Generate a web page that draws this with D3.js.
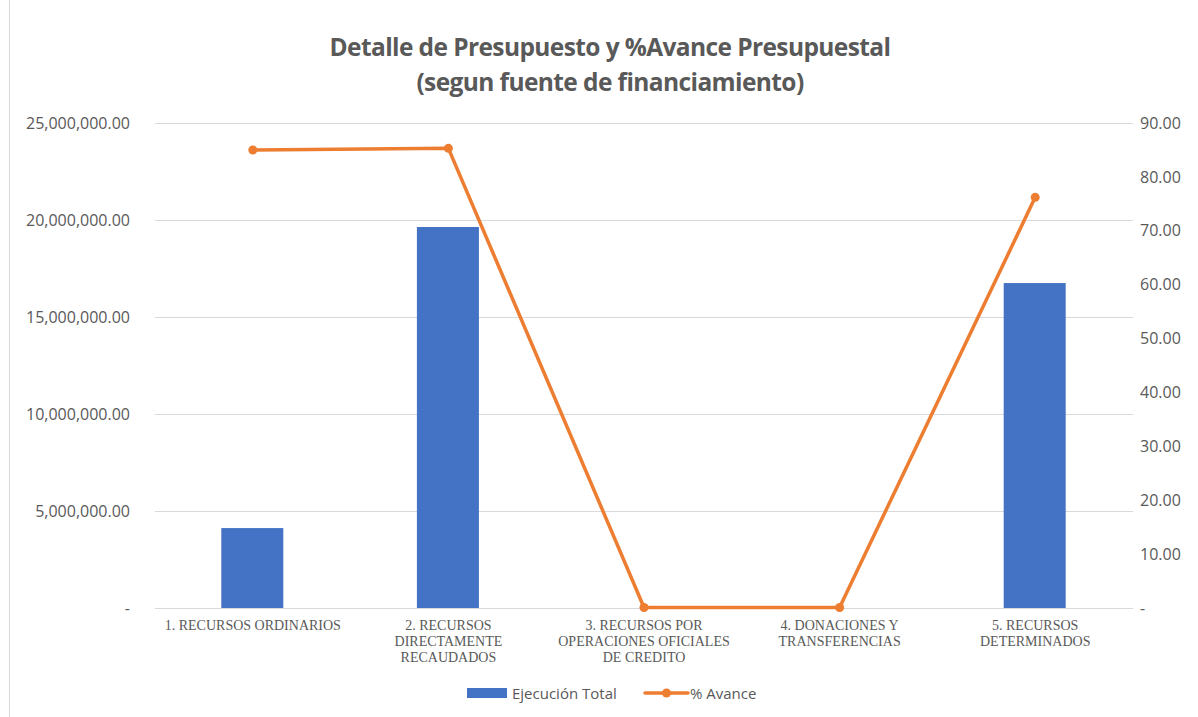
<!DOCTYPE html>
<html><head><meta charset="utf-8">
<script src="https://cdn.jsdelivr.net/npm/d3@7"></script>
<style>body{margin:0;background:#fff}svg{display:block}</style>
</head><body><svg id="c" width="1198" height="717"></svg>
<script>
const categories = [
  ["1. RECURSOS ORDINARIOS"],
  ["2. RECURSOS", "DIRECTAMENTE", "RECAUDADOS"],
  ["3. RECURSOS POR", "OPERACIONES OFICIALES", "DE CREDITO"],
  ["4. DONACIONES Y", "TRANSFERENCIAS"],
  ["5. RECURSOS", "DETERMINADOS"]
];
const ejecucionTotal = [4120000, 19640000, 0, 0, 16750000];
const avance = [85.0, 85.3, 0.1, 0.1, 76.2];
const leftTicks = [0, 5000000, 10000000, 15000000, 20000000, 25000000];
const rightTicks = [0, 10, 20, 30, 40, 50, 60, 70, 80, 90];

const svg = d3.select("#c");
const L = 155, R = 1133, T = 123, B = 608;
const grey = "#595959";
const x = d3.scaleBand().domain(d3.range(categories.length)).range([L, R]);
const yL = d3.scaleLinear().domain([0, 25000000]).range([B, T]);
const yR = d3.scaleLinear().domain([0, 90]).range([B, T]);

svg.append("line").attr("x1", 9.5).attr("x2", 9.5).attr("y1", 0).attr("y2", 717).attr("stroke", "#d9d9d9");

const title = svg.append("text").attr("x", 610).attr("font-family", "Open Sans, sans-serif").attr("font-weight", "bold")
  .attr("font-size", 24.5).attr("fill", grey).attr("text-anchor", "middle").attr("letter-spacing", -0.6);
title.append("tspan").attr("x", 610).attr("y", 56).text("Detalle de Presupuesto y %Avance Presupuestal");
title.append("tspan").attr("x", 610).attr("y", 91).text("(segun fuente de financiamiento)");

svg.append("g").selectAll("line").data(leftTicks).join("line")
  .attr("x1", L).attr("x2", R).attr("y1", d => Math.round(yL(d)) + 0.5).attr("y2", d => Math.round(yL(d)) + 0.5)
  .attr("stroke", "#d9d9d9").attr("stroke-width", 1);

const fmtL = d => d === 0 ? "-" : d3.format(",.2f")(d);
const fmtR = d => d === 0 ? "-" : d3.format(".2f")(d);

const axL = svg.append("g").attr("transform", `translate(${L},0)`)
  .call(d3.axisLeft(yL).tickValues(leftTicks).tickFormat(fmtL).tickSize(0).tickPadding(25));
const axR = svg.append("g").attr("transform", `translate(${R},0)`)
  .call(d3.axisRight(yR).tickValues(rightTicks).tickFormat(fmtR).tickSize(0).tickPadding(7));
[axL, axR].forEach(a => {
  a.select(".domain").remove();
  a.selectAll("text").attr("font-family", "Open Sans, sans-serif").attr("font-size", 16).attr("fill", grey);
});

const bw = 62;
svg.append("g").selectAll("rect").data(ejecucionTotal).join("rect")
  .attr("x", (d, i) => x(i) + x.bandwidth() / 2 - bw / 2 - 0.5).attr("width", bw)
  .attr("y", d => yL(d)).attr("height", d => B - yL(d)).attr("fill", "#4472c4");

const cx = i => x(i) + x.bandwidth() / 2;
svg.append("path").datum(avance)
  .attr("d", d3.line().x((d, i) => cx(i)).y(d => yR(d)))
  .attr("fill", "none").attr("stroke", "#ed7d31").attr("stroke-width", 3.5).attr("stroke-linejoin", "round");
svg.append("g").selectAll("circle").data(avance).join("circle")
  .attr("cx", (d, i) => cx(i)).attr("cy", d => yR(d)).attr("r", 4.5).attr("fill", "#ed7d31");

const xl = svg.append("g").selectAll("text").data(categories).join("text")
  .attr("font-family", "Liberation Serif, serif").attr("font-size", 14).attr("fill", grey)
  .attr("text-anchor", "middle").attr("transform", (d, i) => `translate(${cx(i)},0)`);
xl.selectAll("tspan").data(d => d).join("tspan").attr("x", 0).attr("y", (d, j) => 630 + j * 16).text(d => d);

const lg = svg.append("g");
lg.append("rect").attr("x", 467).attr("y", 688).attr("width", 40).attr("height", 10).attr("fill", "#4472c4");
lg.append("text").attr("x", 512).attr("y", 699).text("Ejecución Total");
lg.append("line").attr("x1", 645).attr("x2", 688).attr("y1", 693).attr("y2", 693).attr("stroke", "#ed7d31").attr("stroke-width", 3.5).attr("stroke-linecap", "round");
lg.append("circle").attr("cx", 666.5).attr("cy", 693).attr("r", 4.5).attr("fill", "#ed7d31");
lg.append("text").attr("x", 690).attr("y", 699).text("% Avance");
lg.selectAll("text").attr("font-family", "Open Sans, sans-serif").attr("font-size", 15).attr("fill", grey);
</script></body></html>
